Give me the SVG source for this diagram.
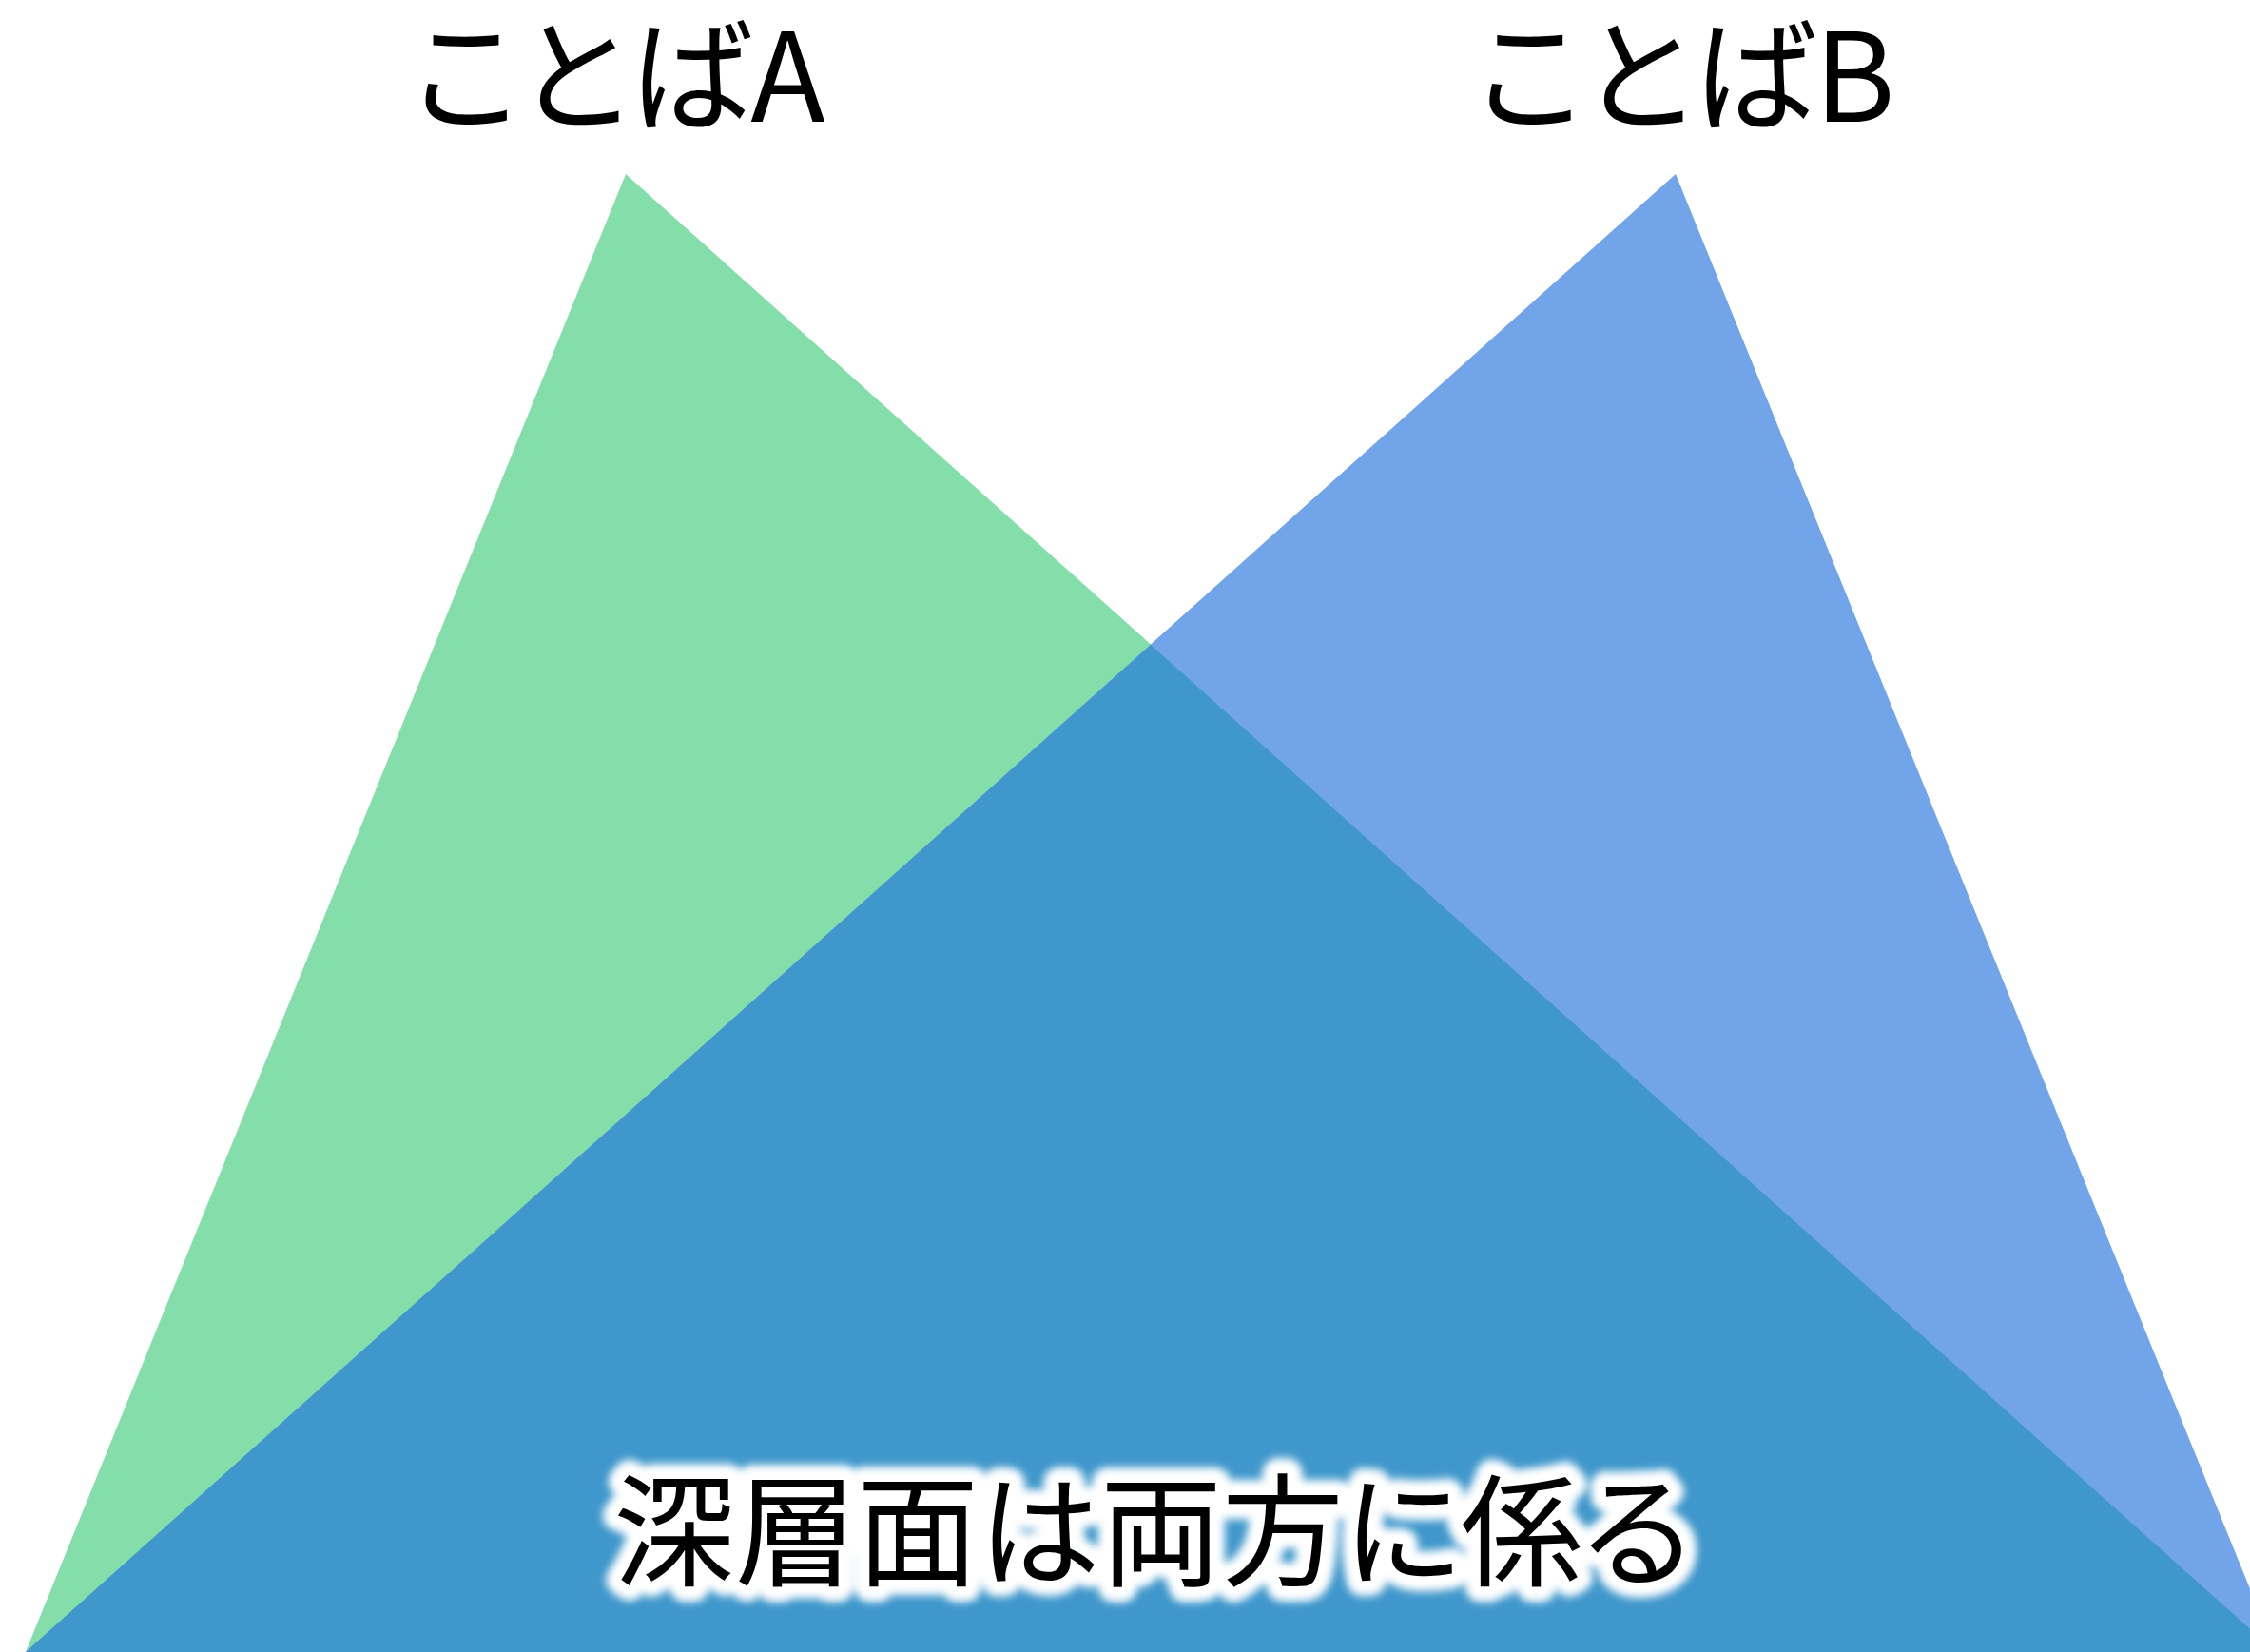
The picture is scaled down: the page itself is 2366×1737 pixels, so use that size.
<svg xmlns="http://www.w3.org/2000/svg" width="2366" height="1737" viewBox="0 0 2366 1737">
<defs>
<style>
.lbl{font-family:"Noto Sans CJK JP","Noto Sans",sans-serif;fill:#000;font-feature-settings:"palt";}
.top{font-size:129px;}
.bot{font-size:128px;}
.halo{fill:#fff;stroke:#fff;stroke-width:32px;stroke-linejoin:round;}
</style>
<filter id="blur" x="-10%" y="-30%" width="120%" height="160%">
<feGaussianBlur stdDeviation="4.5"/>
</filter>
</defs>
<rect width="2366" height="1737" fill="#fff"/>
<g id="triangleA">
<polygon points="658,183 27,1737 2393,1737" fill="#84DEA9"/>
</g>
<g id="triangleB">
<polygon points="1762,183 27,1737 2393,1737" fill="#71A4E9"/>
</g>
<g id="overlap">
<polygon points="1210,678 27,1737 2393,1737" fill="#3F97CB"/>
</g>
<g id="labelA">
<text class="lbl top" x="651" y="128" text-anchor="middle">ことばA</text>
</g>
<g id="labelB">
<text class="lbl top" x="1773" y="128" text-anchor="middle">ことばB</text>
</g>
<g id="labelBottom">
<text class="lbl bot halo" x="1212" y="1658" text-anchor="middle" filter="url(#blur)">深層面は両方に係る</text>
<text class="lbl bot" x="1212" y="1658" text-anchor="middle">深層面は両方に係る</text>
</g>
<g id="connectors"/>
</svg>
